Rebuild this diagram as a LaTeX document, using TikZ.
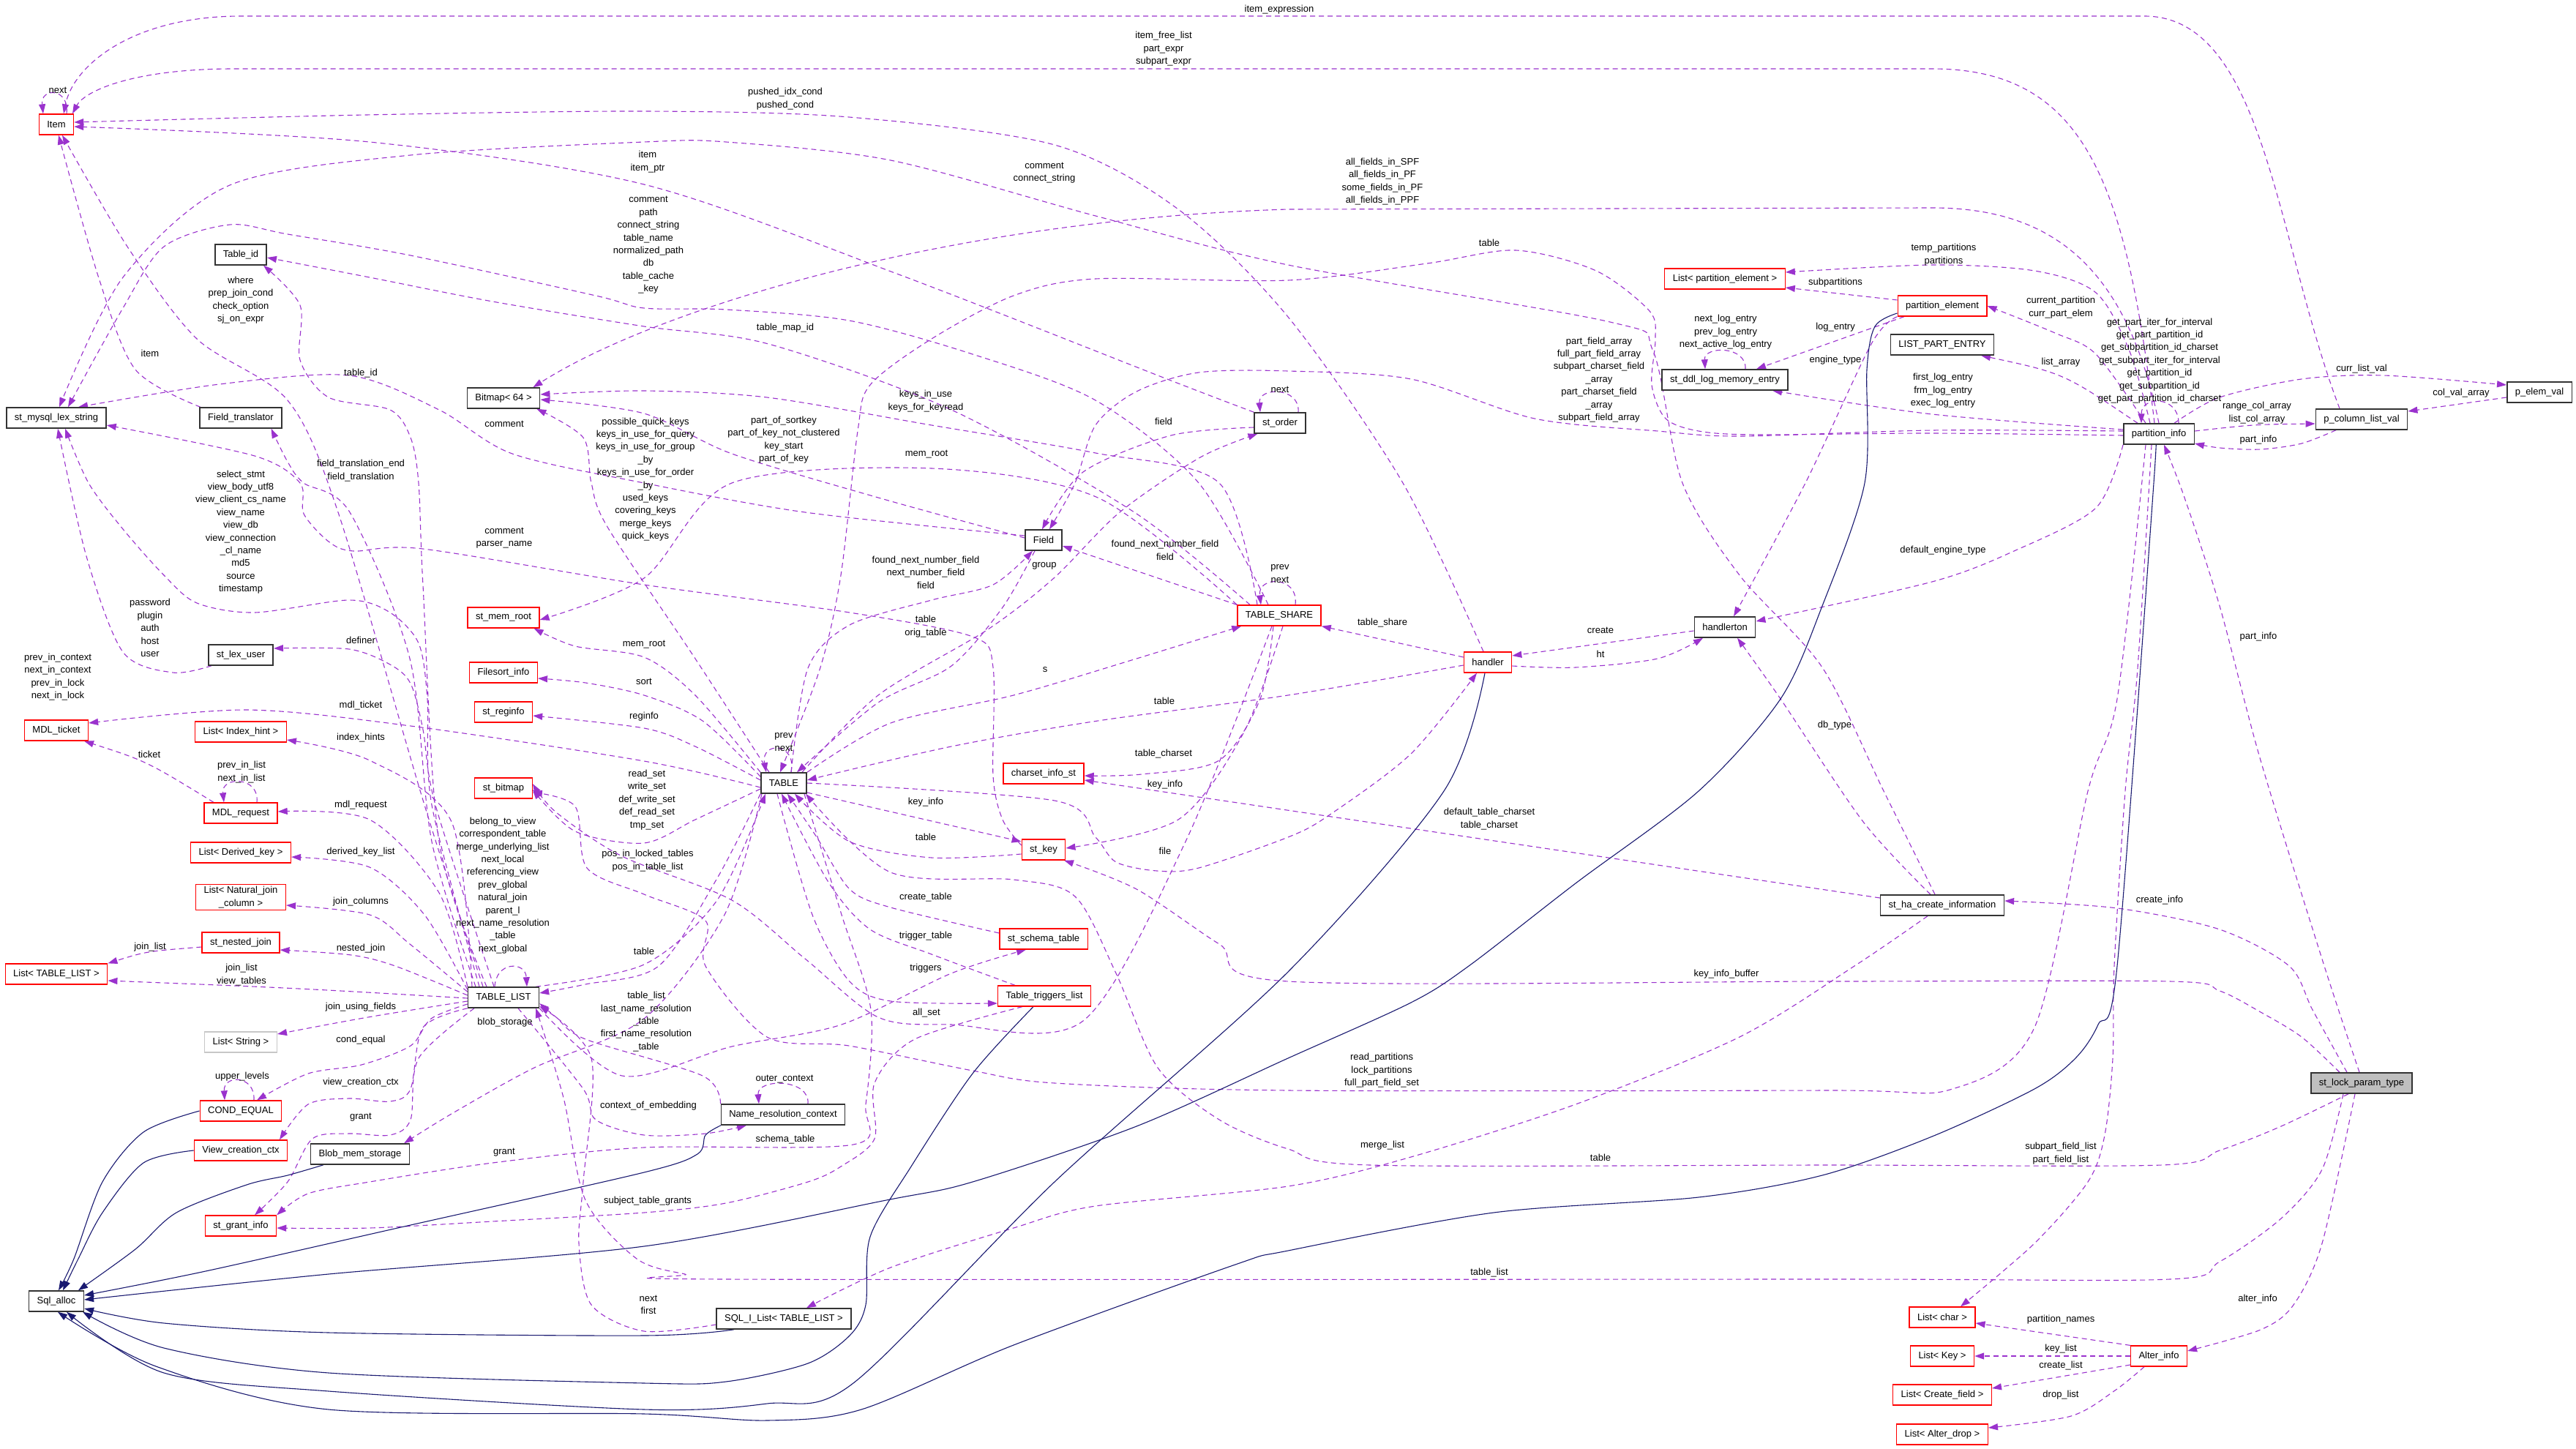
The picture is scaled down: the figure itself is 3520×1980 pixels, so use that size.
\documentclass[tikz,border=0pt]{standalone}
\usepackage{fontspec}
\setmainfont{Liberation Sans}
\usetikzlibrary{arrows.meta, positioning, backgrounds}
\definecolor{usecol}{HTML}{9A32CD}
\definecolor{inhcol}{HTML}{191970}
\newcommand{\lblfont}{\fontsize{13}{17.4}\selectfont}

\tikzset{
  cls/.style={draw=black!80, line width=1.5pt, fill=white, minimum height=28pt, inner xsep=11pt, inner ysep=3pt, font=\lblfont, align=center},
  rcls/.style={cls, draw=red, line width=1.3pt},
  gcls/.style={cls, draw=black!22},
  hcls/.style={cls, fill=black!25},
  lbl/.style={font=\lblfont, align=center, inner sep=0pt},
  mem/.style={draw=usecol, line width=1.1pt, dash pattern=on 7pt off 5pt, -{Triangle[length=13pt,width=9pt]}},
  inh/.style={draw=inhcol, line width=1.1pt, -{Triangle[length=13pt,width=9pt]}},
}

\begin{document}
\begin{tikzpicture}[x=1pt, y=-1pt]
\useasboundingbox (0,0) rectangle (3520,1980);

% classes
\node[rcls] (Item) at (77,170) {Item};
\node[cls] (Tableid) at (329,348) {Table\_id};
\node[cls] (stmysql) at (77,571) {st\_mysql\_lex\_string};
\node[cls] (Fieldtr) at (329,571) {Field\_translator};
\node[cls] (Bitmap) at (688,544) {Bitmap< 64 >};
\node[cls] (storder) at (1749,578) {st\_order};
\node[cls] (Field) at (1426,738) {Field};
\node[rcls] (TABLESHARE) at (1748,841) {TABLE\_SHARE};
\node[cls] (TABLE) at (1071,1070) {TABLE};
\node[rcls] (memroot) at (688,844) {st\_mem\_root};
\node[rcls] (Filesort) at (688,919) {Filesort\_info};
\node[rcls] (reginfo) at (688,973) {st\_reginfo};
\node[rcls] (stbitmap) at (688,1077) {st\_bitmap};
\node[cls] (lexuser) at (329,895) {st\_lex\_user};
\node[rcls] (MDLticket) at (77,998) {MDL\_ticket};
\node[rcls] (IndexHint) at (329,1000) {List< Index\_hint >};
\node[rcls] (MDLrequest) at (329,1111) {MDL\_request};
\node[rcls] (DerivedKey) at (329,1165) {List< Derived\_key >};
\node[rcls] (NatJoin) at (329,1226) {List< Natural\_join\\\_column >};
\node[rcls] (nestedjoin) at (329,1288) {st\_nested\_join};
\node[rcls] (ListTL) at (77,1331) {List< TABLE\_LIST >};
\node[cls] (TABLELIST) at (688,1363) {TABLE\_LIST};
\node[gcls] (ListString) at (329,1424) {List< String >};
\node[rcls] (CONDEQUAL) at (329,1518) {COND\_EQUAL};
\node[rcls] (ViewCtx) at (329,1572) {View\_creation\_ctx};
\node[cls] (BlobMem) at (492,1577) {Blob\_mem\_storage};
\node[rcls] (grantinfo) at (329,1675) {st\_grant\_info};
\node[cls] (Sqlalloc) at (77,1778) {Sql\_alloc};
\node[cls] (NameRes) at (1070,1523) {Name\_resolution\_context};
\node[cls] (SQLIList) at (1071,1802) {SQL\_I\_List< TABLE\_LIST >};
\node[rcls] (TrigList) at (1427,1361) {Table\_triggers\_list};
\node[rcls] (stschema) at (1426,1283) {st\_schema\_table};
\node[rcls] (stkey) at (1426,1161) {st\_key};
\node[rcls] (charset) at (1426,1057) {charset\_info\_st};
\node[rcls] (handler) at (2033,905) {handler};
\node[cls] (handlerton) at (2357,857) {handlerton};
\node[cls] (hacreate) at (2654,1237) {st\_ha\_create\_information};
\node[rcls] (ListPE) at (2357,381) {List< partition\_element >};
\node[rcls] (partelem) at (2654,418) {partition\_element};
\node[cls] (ddllog) at (2357,519) {st\_ddl\_log\_memory\_entry};
\node[cls] (LISTPART) at (2654,471) {LIST\_PART\_ENTRY};
\node[cls] (partinfo) at (2950,593) {partition\_info};
\node[cls] (pcolumn) at (3227,573) {p\_column\_list\_val};
\node[cls] (pelem) at (3470,536) {p\_elem\_val};
\node[hcls] (lockparam) at (3227,1480) {st\_lock\_param\_type};
\node[rcls] (ListChar) at (2654,1800) {List< char >};
\node[rcls] (ListKey) at (2654,1853) {List< Key >};
\node[rcls] (ListCreate) at (2654,1906) {List< Create\_field >};
\node[rcls] (ListAlterDrop) at (2654,1960) {List< Alter\_drop >};
\node[rcls] (Alterinfo) at (2950,1853) {Alter\_info};

% member labels
\node[lbl] (l1) at (1748,13) {item\_expression};
\node[lbl] (l2) at (1590,67) {item\_free\_list\\part\_expr\\subpart\_expr};
\node[lbl] (l3) at (1073,135) {pushed\_idx\_cond\\pushed\_cond};
\node[lbl] (l4) at (885,221) {item\\item\_ptr};
\node[lbl] (l5) at (1427,236) {comment\\connect\_string};
\node[lbl] (l6) at (886,335) {comment\\path\\connect\_string\\table\_name\\normalized\_path\\db\\table\_cache\\\_key};
\node[lbl] (l7) at (1889,248) {all\_fields\_in\_SPF\\all\_fields\_in\_PF\\some\_fields\_in\_PF\\all\_fields\_in\_PPF};
\node[lbl] (l8) at (2035,332) {table};
\node[lbl] (l9) at (2656,348) {temp\_partitions\\partitions};
\node[lbl] (l10) at (2508,386) {subpartitions};
\node[lbl] (l11) at (2816,420) {current\_partition\\curr\_part\_elem};
\node[lbl] (l12) at (2358,454) {next\_log\_entry\\prev\_log\_entry\\next\_active\_log\_entry};
\node[lbl] (l13) at (2508,447) {log\_entry};
\node[lbl] (l14) at (2508,492) {engine\_type};
\node[lbl] (l15) at (2951,493) {get\_part\_iter\_for\_interval\\get\_part\_partition\_id\\get\_subpartition\_id\_charset\\get\_subpart\_iter\_for\_interval\\get\_partition\_id\\get\_subpartition\_id\\get\_part\_partition\_id\_charset};
\node[lbl] (l16) at (2816,495) {list\_array};
\node[lbl] (l17) at (2185,519) {part\_field\_array\\full\_part\_field\_array\\subpart\_charset\_field\\\_array\\part\_charset\_field\\\_array\\subpart\_field\_array};
\node[lbl] (l18) at (2655,534) {first\_log\_entry\\frm\_log\_entry\\exec\_log\_entry};
\node[lbl] (l19) at (3227,504) {curr\_list\_val};
\node[lbl] (l20) at (3363,537) {col\_val\_array};
\node[lbl] (l21) at (3084,564) {range\_col\_array\\list\_col\_array};
\node[lbl] (l22) at (3086,601) {part\_info};
\node[lbl] (l23) at (79,123) {next};
\node[lbl] (l24) at (329,410) {where\\prep\_join\_cond\\check\_option\\sj\_on\_expr};
\node[lbl] (l25) at (205,483) {item};
\node[lbl] (l26) at (493,510) {table\_id};
\node[lbl] (l27) at (1073,448) {table\_map\_id};
\node[lbl] (l28) at (1265,548) {keys\_in\_use\\keys\_for\_keyread};
\node[lbl] (l29) at (1071,601) {part\_of\_sortkey\\part\_of\_key\_not\_clustered\\key\_start\\part\_of\_key};
\node[lbl] (l30) at (1266,621) {mem\_root};
\node[lbl] (l31) at (1749,532) {next};
\node[lbl] (l32) at (1590,576) {field};
\node[lbl] (l33) at (689,579) {comment};
\node[lbl] (l34) at (882,655) {possible\_quick\_keys\\keys\_in\_use\_for\_query\\keys\_in\_use\_for\_group\\\_by\\keys\_in\_use\_for\_order\\\_by\\used\_keys\\covering\_keys\\merge\_keys\\quick\_keys};
\node[lbl] (l35) at (493,643) {field\_translation\_end\\field\_translation};
\node[lbl] (l36) at (329,727) {select\_stmt\\view\_body\_utf8\\view\_client\_cs\_name\\view\_name\\view\_db\\view\_connection\\\_cl\_name\\md5\\source\\timestamp};
\node[lbl] (l37) at (689,735) {comment\\parser\_name};
\node[lbl] (l38) at (205,858) {password\\plugin\\auth\\host\\user};
\node[lbl] (l39) at (493,875) {definer};
\node[lbl] (l40) at (880,881) {mem\_root};
\node[lbl] (l41) at (79,925) {prev\_in\_context\\next\_in\_context\\prev\_in\_lock\\next\_in\_lock};
\node[lbl] (l42) at (880,931) {sort};
\node[lbl] (l43) at (493,964) {mdl\_ticket};
\node[lbl] (l44) at (880,979) {reginfo};
\node[lbl] (l45) at (493,1008) {index\_hints};
\node[lbl] (l46) at (204,1031) {ticket};
\node[lbl] (l47) at (330,1055) {prev\_in\_list\\next\_in\_list};
\node[lbl] (l48) at (493,1100) {mdl\_request};
\node[lbl] (l49) at (884,1093) {read\_set\\write\_set\\def\_write\_set\\def\_read\_set\\tmp\_set};
\node[lbl] (l50) at (493,1164) {derived\_key\_list};
\node[lbl] (l51) at (687,1210) {belong\_to\_view\\correspondent\_table\\merge\_underlying\_list\\next\_local\\referencing\_view\\prev\_global\\natural\_join\\parent\_l\\next\_name\_resolution\\\_table\\next\_global};
\node[lbl] (l52) at (885,1176) {pos\_in\_locked\_tables\\pos\_in\_table\_list};
\node[lbl] (l53) at (493,1232) {join\_columns};
\node[lbl] (l54) at (493,1296) {nested\_join};
\node[lbl] (l55) at (205,1294) {join\_list};
\node[lbl] (l56) at (880,1300) {table};
\node[lbl] (l57) at (330,1332) {join\_list\\view\_tables};
\node[lbl] (l58) at (493,1376) {join\_using\_fields};
\node[lbl] (l59) at (690,1397) {blob\_storage};
\node[lbl] (l60) at (883,1396) {table\_list\\last\_name\_resolution\\\_table\\first\_name\_resolution\\\_table};
\node[lbl] (l61) at (493,1421) {cond\_equal};
\node[lbl] (l62) at (331,1471) {upper\_levels};
\node[lbl] (l63) at (493,1479) {view\_creation\_ctx};
\node[lbl] (l64) at (886,1511) {context\_of\_embedding};
\node[lbl] (l65) at (493,1527) {grant};
\node[lbl] (l66) at (689,1575) {grant};
\node[lbl] (l67) at (885,1641) {subject\_table\_grants};
\node[lbl] (l68) at (886,1783) {next\\first};
\node[lbl] (l69) at (1072,1475) {outer\_context};
\node[lbl] (l70) at (1073,1557) {schema\_table};
\node[lbl] (l71) at (1265,782) {found\_next\_number\_field\\next\_number\_field\\field};
\node[lbl] (l72) at (1427,773) {group};
\node[lbl] (l73) at (1592,752) {found\_next\_number\_field\\field};
\node[lbl] (l74) at (1749,784) {prev\\next};
\node[lbl] (l75) at (1265,856) {table\\orig\_table};
\node[lbl] (l76) at (1428,915) {s};
\node[lbl] (l77) at (1591,958) {table};
\node[lbl] (l78) at (1071,1014) {prev\\next};
\node[lbl] (l79) at (1590,1030) {table\_charset};
\node[lbl] (l80) at (1592,1072) {key\_info};
\node[lbl] (l81) at (1265,1096) {key\_info};
\node[lbl] (l82) at (1265,1144) {table};
\node[lbl] (l83) at (1592,1163) {file};
\node[lbl] (l84) at (1265,1226) {create\_table};
\node[lbl] (l85) at (1265,1279) {trigger\_table};
\node[lbl] (l86) at (1265,1323) {triggers};
\node[lbl] (l87) at (1266,1384) {all\_set};
\node[lbl] (l88) at (2655,752) {default\_engine\_type};
\node[lbl] (l89) at (1889,851) {table\_share};
\node[lbl] (l90) at (2187,861) {create};
\node[lbl] (l91) at (2187,894) {ht};
\node[lbl] (l92) at (2507,991) {db\_type};
\node[lbl] (l93) at (2035,1119) {default\_table\_charset\\table\_charset};
\node[lbl] (l94) at (3086,870) {part\_info};
\node[lbl] (l95) at (2951,1230) {create\_info};
\node[lbl] (l96) at (2359,1331) {key\_info\_buffer};
\node[lbl] (l97) at (1888,1463) {read\_partitions\\lock\_partitions\\full\_part\_field\_set};
\node[lbl] (l98) at (1889,1565) {merge\_list};
\node[lbl] (l99) at (2187,1582) {table};
\node[lbl] (l100) at (2035,1739) {table\_list};
\node[lbl] (l101) at (2816,1576) {subpart\_field\_list\\part\_field\_list};
\node[lbl] (l102) at (3085,1775) {alter\_info};
\node[lbl] (l103) at (2816,1803) {partition\_names};
\node[lbl] (l104) at (2816,1843) {key\_list};
\node[lbl] (l105) at (2816,1866) {create\_list};
\node[lbl] (l106) at (2816,1906) {drop\_list};

\begin{scope}[on background layer]
% Item
\draw[mem] ([xshift=-30pt]pcolumn.north) .. controls (3110,330) and (3095,22) .. (2930,22) -- (330,22) .. controls (180,22) and (100,90) .. ([xshift=10pt]Item.north);
\draw[mem] ([xshift=-6pt]partinfo.north) .. controls (2905,250) and (2850,94) .. (2640,94) -- (320,94) .. controls (180,94) and (115,125) .. ([xshift=22pt]Item.north);
\draw[mem] plot[smooth] coordinates {([xshift=-6pt]handler.north) (1917,660) (1760,433) (1610,286) (1441,198) (1160,160) (880,152) (500,157) ([yshift=3pt]Item.east)};
\draw[mem] plot[smooth] coordinates {(storder.north west) (1600,520) (1228,375) (880,252) (505,194) ([yshift=-3pt]Item.east)};
\draw[mem] plot[smooth] coordinates {([xshift=-28pt]TABLELIST.north) (580,1100) (462,700) (393,547) (269,463) (174,337) ([xshift=8pt]Item.south)};
\draw[mem] plot[smooth] coordinates {([xshift=-55pt]Fieldtr.north) (185,505) (135,380) ([xshift=3pt]Item.south)};
\draw[mem] ([xshift=14pt]Item.north) .. controls +(4,-36) and +(-4,-36) .. ([xshift=-18pt]Item.north);
% st_mysql_lex_string
\draw[mem] plot[smooth] coordinates {([xshift=-10pt]hacreate.north) (2574,1081) (2490,912) (2377,786) (2299,660) (2259,480) (2200,440) (1760,362) (1497,295) (1217,219) (992,194) (880,194) (561,212) (314,253) (168,379) ([xshift=4pt]stmysql.north)};
\draw[mem] plot[smooth] coordinates {([xshift=-15pt]TABLESHARE.north) (1638,660) (1497,547) (1329,484) (1160,438) (992,423) (880,421) (814,404) (561,349) (393,320) (314,307) (224,337) (168,421) ([xshift=16pt]stmysql.north)};
\draw[mem] plot[smooth] coordinates {([xshift=-33pt]TABLELIST.north) (590,1100) (584,955) (572,879) (533,837) (477,820) (348,837) (269,824) (224,786) (168,723) (121,660) ([xshift=12pt]stmysql.south)};
\draw[mem] plot[smooth] coordinates {([xshift=-40pt]lexuser.south) (236,919) (168,891) (118,760) ([xshift=2pt]stmysql.south)};
\draw[mem] plot[smooth] coordinates {([yshift=6pt]Field.west) (1100,700) (880,660) (700,620) (600,560) (477,513) (300,525) ([xshift=30pt]stmysql.north)};
\draw[mem] plot[smooth] coordinates {([yshift=6pt]stkey.west) (1370,1120) (1357,1060) (1357,912) (1329,870) (1161,837) (880,799) (578,750) (483,753) (449,740) (415,702) (410,660) (348,623) ([yshift=-10pt]stmysql.east)};
% Table_id
\draw[mem] plot[smooth] coordinates {([xshift=-23pt]TABLELIST.north) (600,1150) (578,800) (572,660) (561,598) (533,560) (449,543) (410,492) (410,417) ([xshift=-5pt]Tableid.south east)};
\draw[mem] plot[smooth] coordinates {([xshift=-40pt]TABLESHARE.north) (1550,700) (1300,560) (1050,470) (880,446) (673,412) (505,379) ([yshift=-4pt]Tableid.east)};
% Bitmap
\draw[mem] plot[smooth] coordinates {([xshift=-20pt]TABLE.north) (950,900) (830,720) (808,660) (797,598) ([xshift=-5pt]Bitmap.south east)};
\draw[mem] plot[smooth] coordinates {([xshift=-30pt]TABLESHARE.north) (1666,660) (1497,619) (1273,581) (1048,543) (880,534) ([yshift=5pt]Bitmap.east)};
\draw[mem] plot[smooth] coordinates {([yshift=3pt]Field.west) (1200,680) (1000,620) (880,565) ([yshift=-2pt]Bitmap.east)};
\draw[mem] (partinfo.north) .. controls (2905,360) and (2800,284) .. (2640,284) -- (1760,286) .. controls (1300,300) and (900,420) .. ([xshift=-10pt]Bitmap.north east);
% mem_root, sort, reginfo, bitmap
\draw[mem] plot[smooth] coordinates {(TABLESHARE.north west) (1500,680) (1273,640) (1000,660) (880,790) ([yshift=-3pt]memroot.east)};
\draw[mem] plot[smooth] coordinates {(TABLE.north west) (950,950) (880,898) (786,883) ([xshift=-8pt]memroot.south east)};
\draw[mem] plot[smooth] coordinates {([yshift=-6pt]TABLE.north west) (960,985) (880,950) (800,933) ([yshift=-8pt]Filesort.east)};
\draw[mem] plot[smooth] coordinates {([yshift=4pt]TABLE.west) (950,1020) (880,995) ([yshift=-5pt]reginfo.east)};
\draw[mem] plot[smooth] coordinates {([yshift=-8pt]TABLE.west) (950,1120) (880,1152) (786,1136) ([yshift=-2pt]stbitmap.east)};
\draw[mem] plot[smooth] coordinates {([xshift=-18pt]partinfo.south) (2893,955) (2853,1081) (2780,1404) (2668,1488) (2500,1490) (1760,1490) (1441,1480) (1329,1463) (1160,1429) (1048,1417) (964,1320) (964,1258) (880,1222) (802,1186) (786,1102) ([yshift=-6pt]stbitmap.east)};
\draw[mem] plot[smooth] coordinates {([xshift=-10pt]TABLESHARE.south) (1620,1150) (1480,1395) (1300,1400) (1200,1390) (1100,1310) (1000,1230) (850,1170) (760,1110) ([yshift=6pt]stbitmap.east)};
% Field
\draw[mem] plot[smooth] coordinates {([xshift=10pt]TABLE.north) (1104,913) (1161,854) (1273,820) (1357,799) ([xshift=-15pt]Field.south)};
\draw[mem] (TABLESHARE.north west) -- ([yshift=-8pt]Field.east);
\draw[mem] plot[smooth] coordinates {([yshift=4pt]partinfo.west) (2640,588) (2377,596) (2265,589) (2097,572) (1928,518) (1760,507) (1638,509) (1553,535) (1497,581) (1469,660) ([xshift=8pt]Field.north)};
\draw[mem] plot[smooth] coordinates {([yshift=-6pt]storder.west) (1600,595) (1480,645) ([xshift=-2pt]Field.north)};
\draw[mem] plot[smooth] coordinates {([xshift=25pt]TABLE.north) (1200,950) (1350,860) (1440,790) (1530,700) (1640,625) ([xshift=5pt]storder.south west)};
\draw[mem] ([xshift=25pt]storder.north) .. controls +(3,-35) and +(-3,-35) .. ([xshift=-27pt]storder.north);
% TABLE
\draw[mem] plot[smooth] coordinates {([yshift=-2pt]partinfo.west) (2640,592) (2400,594) (2321,589) (2276,572) (2257,526) (2262,463) (2254,425) (2181,370) (2071,342) (1950,360) (1760,383) (1497,381) (1385,404) (1273,463) (1189,526) (1172,589) (1149,786) (1121,912) ([xshift=-5pt]TABLE.north)};
\draw[mem] plot[smooth] coordinates {([xshift=-12pt]Field.south) (1370,830) (1300,910) (1200,960) ([xshift=18pt]TABLE.north)};
\draw[mem] plot[smooth] coordinates {([xshift=32pt]TABLE.north) (1217,988) (1385,950) (1553,900) ([xshift=6pt]TABLESHARE.south west)};
\draw[mem] plot[smooth] coordinates {([yshift=-4pt]handler.west) (1760,950) (1500,985) (1300,1020) ([yshift=4pt]TABLE.east)};
\draw[mem] ([xshift=10pt]TABLE.north) .. controls +(8,-42) and +(-8,-42) .. ([xshift=-24pt]TABLE.north);
\draw[mem] ([xshift=22pt]TABLESHARE.north) .. controls +(5,-40) and +(-5,-40) .. ([xshift=-25pt]TABLESHARE.north);
\draw[mem] plot[smooth] coordinates {([xshift=-8pt]TABLESHARE.south) (1722,955) (1666,1039) (1560,1058) ([yshift=-3pt]charset.east)};
\draw[mem] ([yshift=10pt]hacreate.west) -- ([yshift=-9pt]charset.east);
\draw[mem] plot[smooth] coordinates {([xshift=5pt]TABLESHARE.south) (1700,1000) (1610,1120) ([yshift=2pt]stkey.east)};
\draw[mem] ([yshift=-13pt]TABLE.east) -- ([yshift=11pt]stkey.west);
\draw[mem] plot[smooth] coordinates {([yshift=-6pt]stkey.west) (1273,1172) (1161,1150) ([xshift=15pt]TABLE.south)};
\draw[mem] plot[smooth] coordinates {(TABLE.east) (1441,1094) (1497,1144) (1525,1178) (1581,1190) (1638,1186) (1760,1144) (1816,1114) (1928,1030) ([xshift=-15pt]handler.south)};
\draw[mem] plot[smooth] coordinates {([yshift=8pt]stschema.west) (1217,1240) (1161,1215) (1116,1144) ([xshift=5pt]TABLE.south)};
\draw[mem] plot[smooth] coordinates {([xshift=-40pt]TrigList.north) (1273,1304) (1189,1270) (1133,1207) ([xshift=-3pt]TABLE.south)};
\draw[mem] plot[smooth] coordinates {([xshift=-9pt]TABLE.south) (1110,1250) (1160,1340) (1217,1368) ([yshift=-10pt]TrigList.west)};
\draw[mem] plot[smooth] coordinates {(TABLE.south west) (980,1200) (900,1320) (800,1345) ([yshift=6pt]TABLELIST.east)};
\draw[mem] plot[smooth] coordinates {([xshift=-5pt]TABLELIST.north east) (880,1318) (980,1230) ([xshift=-25pt]TABLE.south)};
% TABLE_LIST members
\draw[mem] plot[smooth] coordinates {([xshift=-38pt]TABLELIST.north) (590,1150) (560,900) (478,700) (415,660) (393,631) ([xshift=-15pt]Fieldtr.south east)};
\draw[mem] plot[smooth] coordinates {([xshift=-13pt]TABLELIST.north) (595,1100) (578,997) (561,934) (533,908) (477,887) ([yshift=9pt]lexuser.east)};
\draw[mem] plot[smooth] coordinates {([yshift=-6pt]TABLE.west) (880,1040) (561,992) (337,970) ([yshift=10pt]MDLticket.east)};
\draw[mem] plot[smooth] coordinates {([xshift=-43pt]TABLELIST.north) (617,1123) (505,1039) ([yshift=-11pt]IndexHint.east)};
\draw[mem] ([xshift=-37pt]MDLrequest.north) .. controls (200,1040) .. ([xshift=38pt]MDLticket.south);
\draw[mem] ([xshift=22pt]MDLrequest.north) .. controls +(4,-36) and +(-4,-36) .. ([xshift=-23pt]MDLrequest.north);
\draw[mem] plot[smooth] coordinates {(TABLELIST.north west) (600,1220) (505,1120) ([yshift=2pt]MDLrequest.east)};
\draw[mem] plot[smooth] coordinates {([yshift=-4pt]TABLELIST.north west) (580,1250) (505,1185) ([yshift=-6pt]DerivedKey.east)};
\draw[mem] plot[smooth] coordinates {([yshift=-7pt]TABLELIST.north west) (560,1290) (505,1250) ([yshift=-11pt]NatJoin.east)};
\draw[mem] plot[smooth] coordinates {([yshift=3pt]TABLELIST.west) (540,1320) (480,1305) ([yshift=-10pt]nestedjoin.east)};
\draw[mem] ([yshift=-6pt]nestedjoin.west) .. controls (200,1300) .. (ListTL.north east);
\draw[mem] ([yshift=-1pt]TABLELIST.west) .. controls (400,1350) .. ([yshift=-9pt]ListTL.east);
\draw[mem] ([xshift=-12pt]TABLELIST.north) .. controls +(2,-35) and +(-2,-35) .. ([xshift=32pt]TABLELIST.north);
\draw[mem] ([yshift=-5pt]TABLELIST.west) .. controls (500,1390) .. ([yshift=11pt]ListString.east);
\draw[mem] plot[smooth] coordinates {([xshift=-30pt]TABLE.south) (990,1250) (880,1392) (730,1459) (617,1522) ([xshift=-8pt]BlobMem.north east)};
\draw[mem] plot[smooth] coordinates {([yshift=-9pt]TABLELIST.west) (589,1392) (561,1429) (494,1455) (421,1467) ([xshift=22pt]CONDEQUAL.north)};
\draw[mem] ([xshift=18pt]CONDEQUAL.north) .. controls +(2,-35) and +(-2,-35) .. ([xshift=-22pt]CONDEQUAL.north);
\draw[mem] plot[smooth] coordinates {(TABLELIST.south west) (578,1404) (561,1488) (533,1505) (477,1501) (421,1509) ([xshift=53pt]ViewCtx.north)};
\draw[mem] plot[smooth] coordinates {([xshift=-40pt]TABLELIST.south) (572,1446) (561,1530) (533,1551) (477,1549) (427,1556) (393,1615) ([xshift=19pt]grantinfo.north)};
\draw[mem] plot[smooth] coordinates {([xshift=28pt]TABLE.south) (1150,1250) (1190,1380) (1183,1509) (1166,1564) (880,1568) (673,1589) (505,1615) (421,1631) (grantinfo.north east)};
\draw[mem] plot[smooth] coordinates {([xshift=-30pt]TrigList.south) (1250,1420) (1195,1480) (1195,1556) (1149,1594) (1104,1615) (992,1644) (880,1657) (673,1669) (505,1678) ([yshift=-3pt]grantinfo.east)};
\draw[mem] plot[smooth] coordinates {(NameRes.north west) (960,1470) (800,1420) (760,1390) ([yshift=-8pt]TABLELIST.east)};
\draw[mem] plot[smooth] coordinates {([xshift=20pt]TABLELIST.south) (797,1488) (814,1530) (880,1551) (964,1549) ([xshift=-50pt]NameRes.south)};
\draw[mem] ([xshift=34pt]NameRes.north) .. controls +(3,-35) and +(-3,-35) .. ([xshift=-33pt]NameRes.north);
\draw[mem] plot[smooth] coordinates {(TABLELIST.south east) (850,1470) (1000,1430) (1150,1400) (1300,1330) ([xshift=-24pt]stschema.south)};
\draw[mem] plot[smooth] coordinates {([yshift=-8pt]SQLIList.west) (880,1819) (808,1783) (791,1699) (797,1615) (808,1446) ([yshift=-12pt]TABLELIST.east)};
\draw[mem] plot[smooth] coordinates {([xshift=-20pt]hacreate.south) (2534,1320) (2377,1417) (2153,1509) (1928,1581) (1760,1621) (1497,1648) (1385,1678) (1217,1732) ([xshift=31pt]SQLIList.north)};
% st_lock_param_type
\draw[mem] plot[smooth] coordinates {([xshift=-25pt]lockparam.south) (3173,1598) (3117,1665) (3033,1724) (2965,1748) (2500,1748) (992,1748) (936,1741) (870,1720) (800,1640) (770,1500) ([xshift=-5pt]TABLELIST.south east)};
\draw[mem] plot[smooth] coordinates {([xshift=-18pt]lockparam.south) (3117,1539) (3033,1572) (2954,1592) (2500,1592) (1872,1592) (1760,1570) (1666,1530) (1582,1459) (1525,1330) (1469,1225) (1385,1202) (1217,1192) ([xshift=30pt]TABLE.south)};
\draw[mem] plot[smooth] coordinates {([xshift=-30pt]lockparam.north) (3145,1417) (3089,1383) (3033,1354) (2965,1341) (2500,1341) (1760,1341) (1666,1290) (1553,1215) ([xshift=28pt]stkey.south)};
\draw[mem] plot[smooth] coordinates {([xshift=-20pt]lockparam.north) (3160,1380) (3128,1320) (3033,1270) (2893,1241) ([yshift=6pt]hacreate.east)};
\draw[mem] plot[smooth] coordinates {([xshift=-3pt]lockparam.north) (3176,1320) (3089,1039) (3033,828) (2985,680) ([xshift=7pt]partinfo.south)};
\draw[mem] plot[smooth] coordinates {([xshift=-9pt]lockparam.south) (3173,1699) (3134,1783) (3089,1817) ([yshift=7pt]Alterinfo.east)};
\draw[mem] plot[smooth] coordinates {([xshift=-10pt]partinfo.south) (2921,913) (2904,1081) (2889,1320) (2887,1446) (2876,1551) (2853,1615) (2780,1699) ([xshift=25pt]ListChar.north)};
% Alter_info
\draw[mem] (Alterinfo.north west) -- ([yshift=-8pt]ListChar.east);
\draw[mem] (Alterinfo.west) -- (ListKey.east);
\draw[mem] ([yshift=-12pt]Alterinfo.west) -- ([yshift=9pt]ListCreate.east);
\draw[mem] plot[smooth] coordinates {([xshift=-20pt]Alterinfo.south) (2890,1900) (2830,1935) ([yshift=9pt]ListAlterDrop.east)};
% partition_info
\draw[mem] plot[smooth] coordinates {([xshift=-12pt]partinfo.north) (2910,480) (2864,400) (2780,370) (2640,362) ([yshift=9pt]ListPE.east)};
\draw[mem] ([yshift=8pt]partelem.west) -- ([yshift=-12pt]ListPE.east);
\draw[mem] ([xshift=-52pt]partelem.south) -- ([xshift=43pt]ddllog.north);
\draw[mem] plot[smooth] coordinates {(partelem.south west) (2557,470) (2467,660) ([xshift=12pt]handlerton.north)};
\draw[mem] plot[smooth] coordinates {([yshift=6pt]partinfo.west) (2640,566) ([xshift=65pt]ddllog.south)};
\draw[mem] ([xshift=28pt]ddllog.north) .. controls +(2,-32) and +(-2,-32) .. ([xshift=-27pt]ddllog.north);
\draw[mem] plot[smooth] coordinates {([xshift=-18pt]partinfo.north) (2864,484) (2808,455) (partelem.east)};
\draw[mem] ([xshift=-29pt]partinfo.north) .. controls (2820,510) .. ([xshift=53pt]LISTPART.south);
\draw[mem] ([xshift=27pt]partinfo.north) .. controls +(0,-38) and +(0,-38) .. ([xshift=-24pt]partinfo.north);
\draw[mem] plot[smooth] coordinates {([xshift=21pt]partinfo.north) (3033,543) (3145,518) (3257,513) ([yshift=10pt]pelem.west)};
\draw[mem] ([yshift=-7pt]pelem.west) -- ([yshift=11pt]pcolumn.east);
\draw[mem] ([yshift=4pt]partinfo.east) .. controls (3080,580) .. ([yshift=-6pt]pcolumn.west);
\draw[mem] plot[smooth] coordinates {([xshift=-35pt]pcolumn.south) (3145,606) (3089,614) (3033,612) ([yshift=-13pt]partinfo.east)};
\draw[mem] plot[smooth] coordinates {(partinfo.south west) (2864,694) (2752,753) (2640,795) ([yshift=8pt]handlerton.east)};
% handler
\draw[mem] ([yshift=7pt]handler.west) -- (TABLESHARE.south east);
\draw[mem] ([yshift=-5pt]handlerton.west) -- ([yshift=9pt]handler.east);
\draw[mem] plot[smooth] coordinates {([yshift=-5pt]handler.east) (2153,912) (2265,900) ([xshift=-30pt]handlerton.south)};
\draw[mem] plot[smooth] coordinates {([xshift=-16pt]hacreate.north) (2546,1123) (2433,955) ([xshift=17pt]handlerton.south)};
% inheritance from Sql_alloc
\draw[inh] plot[smooth] coordinates {(CONDEQUAL.west) (196,1547) (140,1615) (101,1720) ([xshift=3pt]Sqlalloc.north)};
\draw[inh] plot[smooth] coordinates {(ViewCtx.west) (196,1589) (140,1657) (107,1720) ([xshift=9pt]Sqlalloc.north)};
\draw[inh] plot[smooth] coordinates {([xshift=-50pt]BlobMem.south) (393,1606) (337,1619) (241,1657) (185,1707) ([xshift=30pt]Sqlalloc.north)};
\draw[inh] plot[smooth] coordinates {([xshift=-85pt]NameRes.south) (964,1551) (953,1577) (880,1602) (561,1674) (281,1737) ([yshift=8pt]Sqlalloc.east)};
\draw[inh] plot[smooth] coordinates {([yshift=-10pt]partelem.west) (2562,446) (2551,505) (2548,660) (2490,828) (2433,955) (2321,1081) (2153,1207) (2007,1320) (1928,1370) (1760,1446) (1553,1539) (1329,1615) (1211,1640) (880,1703) (449,1741) ([yshift=2pt]Sqlalloc.east)};
\draw[inh] plot[smooth] coordinates {([xshift=-68pt]SQLIList.south) (880,1825) (449,1821) (224,1808) ([yshift=-10pt]Sqlalloc.east)};
\draw[inh] plot[smooth] coordinates {([xshift=-15pt]TrigList.south) (1329,1467) (1245,1594) (1189,1690) (1183,1783) (1161,1825) (1104,1863) (992,1888) (880,1890) (449,1876) (224,1842) ([xshift=-2pt]Sqlalloc.south east)};
\draw[inh] plot[smooth] coordinates {([xshift=-4pt]handler.south) (1973,1081) (1760,1328) (1441,1615) (1166,1890) (1048,1918) (880,1926) (449,1901) (224,1876) ([xshift=14pt]Sqlalloc.south)};
\draw[inh] plot[smooth] coordinates {([xshift=-6pt]partinfo.south) (2943,660) (2893,1320) (2867,1400) (2836,1446) (2780,1488) (2640,1553) (2490,1606) (2321,1636) (2041,1657) (1760,1709) (1688,1728) (1385,1838) (1177,1926) (1048,1941) (880,1932) (449,1926) (213,1867) ([xshift=2pt]Sqlalloc.south)};
\end{scope}
\end{tikzpicture}
\end{document}
